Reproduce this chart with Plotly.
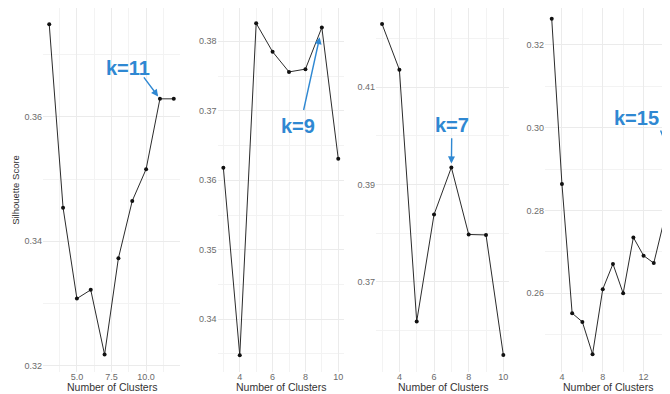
import plotly.graph_objects as go

# ---- data ----
k1 = [3, 4, 5, 6, 7, 8, 9, 10, 11, 12]
s1 = [0.3749, 0.3454, 0.3308, 0.3322, 0.3218, 0.3373, 0.3465, 0.3516, 0.3629, 0.3629]

k2 = [3, 4, 5, 6, 7, 8, 9, 10]
s2 = [0.3618, 0.3348, 0.3826, 0.3785, 0.3756, 0.3760, 0.3820, 0.3631]

k3 = [3, 4, 5, 6, 7, 8, 9, 10]
s3 = [0.4230, 0.4136, 0.3618, 0.3838, 0.3935, 0.3797, 0.3796, 0.3549]

k4 = [3, 4, 5, 6, 7, 8, 9, 10, 11, 12, 13, 14, 15]
s4 = [0.3263, 0.2864, 0.2552, 0.2531, 0.2453, 0.2610, 0.2671, 0.2600, 0.2735,
      0.2691, 0.2673, 0.2775, 0.2910]

best_k = [11, 9, 7, 15]
best_labels = ["k=11", "k=9", "k=7", "k=15"]

x_ticks = [[5, 7.5, 10], [4, 6, 8, 10], [4, 6, 8, 10], [4, 8, 12]]
x_ticktext = [["5.0", "7.5", "10.0"], ["4", "6", "8", "10"], ["4", "6", "8", "10"], ["4", "8", "12"]]
y_ticks = [[0.32, 0.34, 0.36], [0.34, 0.35, 0.36, 0.37, 0.38], [0.37, 0.39, 0.41], [0.26, 0.28, 0.30, 0.32]]
y_ticktext = [["0.32", "0.34", "0.36"], ["0.34", "0.35", "0.36", "0.37", "0.38"],
              ["0.37", "0.39", "0.41"], ["0.26", "0.28", "0.30", "0.32"]]
x_title = "Number of Clusters"
y_title = "Silhouette Score"

# ---- layout styling ----
# the page body adds an 8px offset, so the figure is drawn 8px smaller
OFF = 8
W, H = 670 - OFF, 394 - OFF
T, B = 0, 22
plot_h = H - T - B


def px(x):
    return (x - OFF) / W


domains = [(px(43), px(180)), (px(217.6), px(344)), (px(376), px(509.4)), (px(545), 1.0)]
x_ranges = [[2.55, 12.45], [2.65, 10.35], [2.65, 10.35], [2.34, 14.59]]
y_ranges = [[0.3190, 0.3775], [0.3324, 0.3848], [0.3514, 0.4263], [0.2410, 0.3289]]
x_minor = [(1.25, 0), (1, 0), (1, 0), (2, 0)]
y_minor = [(0.01, 0.0), (0.005, 0.0), (0.01, 0.0), (0.01, 0.0)]

# annotation text centre and arrow tail (data units of each panel)
text_pos = [(8.66, 0.3678), (7.57, 0.3678), (7.06, 0.4022), (11.33, 0.3023)]
tail_pos = [(9.76, 0.3666), (7.87, 0.3699), (7.02, 0.3998), (13.61, 0.2997)]
standoffs = [3, 10, 4, 3]

blue = "#2f88d2"
font_family = "Liberation Sans, Arial, sans-serif"

series = [(k1, s1), (k2, s2), (k3, s3), (k4, s4)]

fig = go.Figure()
annotations = []
for i, (kk, ss) in enumerate(series):
    n = "" if i == 0 else str(i + 1)
    fig.add_trace(go.Scatter(
        x=kk, y=ss, mode="lines+markers",
        line=dict(color="#2b2b2b", width=1),
        marker=dict(color="#111111", size=4),
        xaxis="x" + n, yaxis="y" + n, showlegend=False, cliponaxis=True,
    ))
    xa = dict(
        domain=list(domains[i]), range=x_ranges[i], anchor="y" + n,
        tickmode="array", tickvals=x_ticks[i], ticktext=x_ticktext[i],
        showgrid=True, gridcolor="#EBEBEB", gridwidth=1, zeroline=False,
        showline=False, ticks="", ticklabelstandoff=-2,
        tickfont=dict(family=font_family, size=9, color="#6b6b6b"),
        minor=dict(dtick=x_minor[i][0], tick0=x_minor[i][1], showgrid=True,
                   gridcolor="#F3F3F3", gridwidth=0.6, ticks=""),
    )
    ya = dict(
        domain=[0, 1], range=y_ranges[i], anchor="x" + n,
        tickmode="array", tickvals=y_ticks[i], ticktext=y_ticktext[i],
        showgrid=True, gridcolor="#EBEBEB", gridwidth=1, zeroline=False,
        showline=False, ticks="",
        tickfont=dict(family=font_family, size=9, color="#6b6b6b"),
        minor=dict(dtick=y_minor[i][0], tick0=y_minor[i][1], showgrid=True,
                   gridcolor="#F3F3F3", gridwidth=0.6, ticks=""),
    )
    if i == 0:
        ya["title"] = dict(text=y_title,
                           font=dict(family=font_family, size=9.5, color="#333333"),
                           standoff=3)
    fig.update_layout({"xaxis" + n: xa, "yaxis" + n: ya})

    # x-axis title, centred under each panel
    annotations.append(dict(
        xref="paper", yref="paper", x=(domains[i][0] + domains[i][1]) / 2,
        y=-15 / plot_h, text=x_title, showarrow=False,
        font=dict(family=font_family, size=10.5, color="#333333"),
        xanchor="center", yanchor="middle",
    ))

    bk = best_k[i]
    by = ss[kk.index(bk)]
    annotations.append(dict(
        xref="x" + n, yref="y" + n, x=text_pos[i][0], y=text_pos[i][1],
        text="<b>" + best_labels[i] + "</b>", showarrow=False,
        font=dict(family=font_family, size=20, color=blue),
        xanchor="center", yanchor="middle",
    ))
    annotations.append(dict(
        xref="x" + n, yref="y" + n, x=bk, y=by,
        axref="x" + n, ayref="y" + n, ax=tail_pos[i][0], ay=tail_pos[i][1],
        text="", showarrow=True, arrowhead=2, arrowsize=1, arrowwidth=1.4,
        arrowcolor=blue, standoff=standoffs[i],
    ))

fig.update_layout(
    width=W, height=H,
    margin=dict(l=0, r=0, t=T, b=B, autoexpand=False),
    paper_bgcolor="white", plot_bgcolor="white",
    annotations=annotations,
    font=dict(family=font_family),
)

fig.write_html("out.html")
